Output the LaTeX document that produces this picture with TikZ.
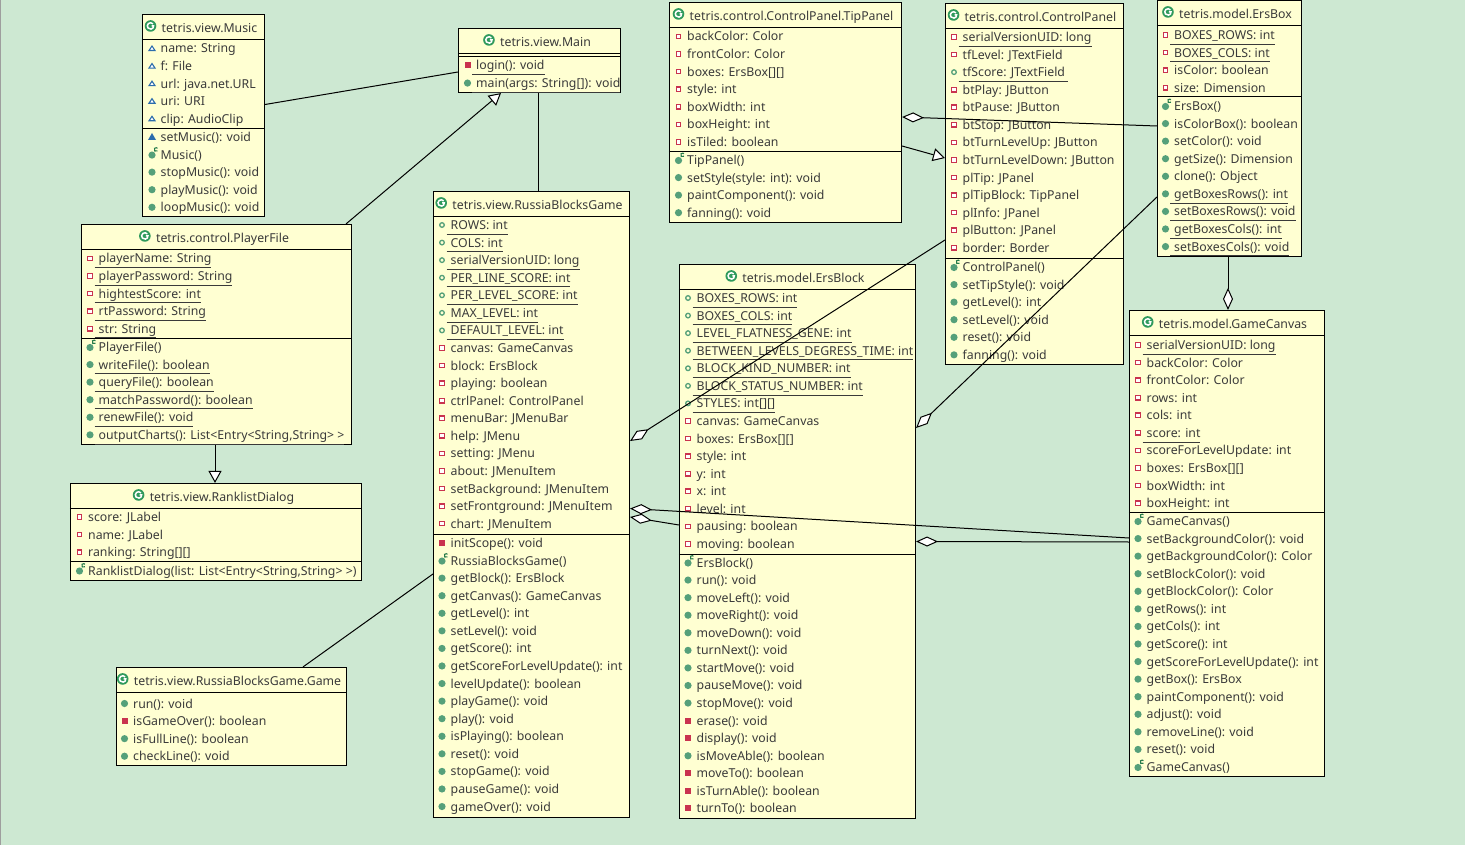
\documentclass[tikz,border=0pt]{standalone}
\usepackage{fontspec}
\setmainfont{Noto Sans}
\usepackage{xcolor}
\usepackage{tikz}
\usetikzlibrary{arrows.meta,fit,calc}
\definecolor{cBack}{HTML}{CDE8D2}
\definecolor{cBox}{HTML}{FFFFD2}
\definecolor{cText}{HTML}{3A3A3A}
\definecolor{cPriv}{HTML}{C9334F}
\definecolor{cPub}{HTML}{55A07A}
\definecolor{cPkg}{HTML}{2C6CAC}
\definecolor{cClass}{HTML}{2F9A5C}
\tikzset{
  classbox/.style={draw=black, line width=1.1pt, fill=cBox, inner sep=0pt},
  titletext/.style={anchor=base, font=\fontsize{12.3}{14}\selectfont, text=cText, inner sep=0pt},
  rowtext/.style={anchor=base west, font=\fontsize{12.3}{14}\selectfont, text=cText, inner sep=0pt},
  sepline/.style={line width=1.1pt},
  assoc/.style={line width=1pt},
  aggr/.style={{Diamond[fill=white,length=22pt,width=10pt]}-, line width=1pt},
  inherit/.style={-{Triangle[fill=white,length=12pt,width=13pt]}, line width=1pt},
  % member icons
  fpriv/.pic={\draw[cPriv, line width=1.2pt, fill=white] (-2.2,-2.2) rectangle (2.2,2.2);},
  mpriv/.pic={\fill[cPriv] (-3,-3) rectangle (3,3);},
  fpub/.pic={\draw[cPub, line width=1.3pt, fill=cBox] (0,0) circle (2.3);},
  mpub/.pic={\fill[cPub] (0,0) circle (3.6);},
  fpkg/.pic={\draw[cPkg, line width=1.1pt, fill=white] (0,-2.5) -- (3,2) -- (-3,2) -- cycle;},
  mpkg/.pic={\fill[cPkg] (0,-4) -- (4,3) -- (-4,3) -- cycle;},
  ctor/.pic={\fill[cPub] (0,0.5) circle (3.6);
    \draw[cClass!80!black, line width=1.1pt] (5.46,-3.78) arc (40:320:1.9);},
  cicon/.pic={\fill[cClass] (0,0) circle (5.8);
    \draw[white, line width=1.5pt] (2.45,-2.06) arc (-40:-320:3.2) -- (3,0) -- (1,0);},
}
% box with title, title rule and member rule
\newcommand\umlclass[7]{%
  \node[classbox, fit={(#2,#3) (#4,#5)}] (#1) {};
  \node[titletext] (#1-title) at ($(#1.north)+(6,18.3)$) {#6};
  \pic at ($(#1-title.base west)+(-11,-6.3)$) {cicon};
  \foreach \sepy in {#7} {\draw[sepline] (#1.west |- 0,\sepy) -- (#1.east |- 0,\sepy);}
}
% one column of members, each item is icon/text
\newcommand\umlrows[4]{%
  \foreach \ic/\txt [count=\n from 0] in {#4} {
    \pic at (#2,{#3+17.57*\n}) {\ic};
    \node[rowtext] (#1-\n) at (#2+8.5,{#3+17.57*\n+4.5}) {\txt};
  }
}
\newcommand\ul[1]{\hspace*{-4pt}\underline{\vphantom{g}\smash{\hspace{4pt}#1}}}
\begin{document}
\begin{tikzpicture}[x=1pt, y=-1pt]
  \useasboundingbox (0,0) rectangle (1465,845);
  \fill[cBack] (0,0) rectangle (1465,845);
  \fill[black!38] (0,0) rectangle (1,845);

  % view package, left column
  \umlclass{music}{142.5}{14.5}{264.5}{216.5}{tetris.view.Music}{39.5,128.5}
  \umlrows{music-f}{152}{48.5}{fpkg/name: String, fpkg/f: File, fpkg/url: java.net.URL, fpkg/uri: URI, fpkg/clip: AudioClip}
  \umlrows{music-m}{152}{137}{mpkg/setMusic(): void, ctor/Music(), mpub/stopMusic(): void, mpub/playMusic(): void, mpub/loopMusic(): void}

  \umlclass{main}{458.5}{28.5}{620.5}{92.5}{tetris.view.Main}{53.5,56.5}
  \umlrows{main-m}{467.5}{65.5}{mpriv/\ul{login(): void}, mpub/\ul{main(args: String[]): void}}

  \umlclass{player}{81.5}{224.5}{351.5}{444.5}{tetris.control.PlayerFile}{249.5,338.5}
  \umlrows{player-f}{90}{258.5}{fpriv/\ul{playerName: String}, fpriv/\ul{playerPassword: String}, fpriv/\ul{hightestScore: int}, fpriv/\ul{rtPassword: String}, fpriv/\ul{str: String}}
  \umlrows{player-m}{90}{347}{ctor/PlayerFile(), mpub/\ul{writeFile(): boolean}, mpub/\ul{queryFile(): boolean}, mpub/\ul{matchPassword(): boolean}, mpub/\ul{renewFile(): void}, mpub/\ul{outputCharts(): List<Entry<{String,String}> >}}

  \umlclass{ranklist}{70.5}{483.5}{361.5}{580.5}{tetris.view.RanklistDialog}{508.5,561.5}
  \umlrows{ranklist-f}{79.5}{517}{fpriv/score: JLabel, fpriv/name: JLabel, fpriv/ranking: String[][]}
  \umlrows{ranklist-m}{79.5}{570.5}{ctor/RanklistDialog(list: List<Entry<{String,String}> >)}

  \umlclass{game}{116.5}{667.5}{346.5}{765.5}{tetris.view.RussiaBlocksGame.Game}{692.5}
  \umlrows{game-m}{124.5}{703.5}{mpub/run(): void, mpriv/isGameOver(): boolean, mpub/isFullLine(): boolean, mpub/checkLine(): void}

  \umlclass{russia}{433.5}{191.5}{629.5}{817.5}{tetris.view.RussiaBlocksGame}{216.5,534.5}
  \umlrows{russia-f}{442}{225}{fpub/\ul{ROWS: int}, fpub/\ul{COLS: int}, fpub/\ul{serialVersionUID: long}, fpub/\ul{PER\_LINE\_SCORE: int}, fpub/\ul{PER\_LEVEL\_SCORE: int}, fpub/\ul{MAX\_LEVEL: int}, fpub/\ul{DEFAULT\_LEVEL: int}, fpriv/canvas: GameCanvas, fpriv/block: ErsBlock, fpriv/playing: boolean, fpriv/ctrlPanel: ControlPanel, fpriv/menuBar: JMenuBar, fpriv/help: JMenu, fpriv/setting: JMenu, fpriv/about: JMenuItem, fpriv/setBackground: JMenuItem, fpriv/setFrontground: JMenuItem, fpriv/chart: JMenuItem}
  \umlrows{russia-m}{442}{543}{mpriv/initScope(): void, ctor/RussiaBlocksGame(), mpub/getBlock(): ErsBlock, mpub/getCanvas(): GameCanvas, mpub/getLevel(): int, mpub/setLevel(): void, mpub/getScore(): int, mpub/getScoreForLevelUpdate(): int, mpub/levelUpdate(): boolean, mpub/playGame(): void, mpub/play(): void, mpub/isPlaying(): boolean, mpub/reset(): void, mpub/stopGame(): void, mpub/pauseGame(): void, mpub/gameOver(): void}

  % control package
  \umlclass{tippanel}{669.5}{2.5}{901.5}{222.5}{tetris.control.ControlPanel.TipPanel}{27.5,151.5}
  \umlrows{tippanel-f}{678.5}{36.5}{fpriv/backColor: Color, fpriv/frontColor: Color, fpriv/boxes: ErsBox[][], fpriv/style: int, fpriv/boxWidth: int, fpriv/boxHeight: int, fpriv/isTiled: boolean}
  \umlrows{tippanel-m}{678.5}{160}{ctor/TipPanel(), mpub/setStyle(style: int): void, mpub/paintComponent(): void, mpub/fanning(): void}

  \umlclass{control}{945.5}{3.5}{1123.5}{364.5}{tetris.control.ControlPanel}{28.5,258.5}
  \umlrows{control-f}{954}{37}{fpriv/\ul{serialVersionUID: long}, fpriv/tfLevel: JTextField, fpub/\ul{tfScore: JTextField\ }, fpriv/btPlay: JButton, fpriv/btPause: JButton, fpriv/btStop: JButton, fpriv/btTurnLevelUp: JButton, fpriv/btTurnLevelDown: JButton, fpriv/plTip: JPanel, fpriv/plTipBlock: TipPanel, fpriv/plInfo: JPanel, fpriv/plButton: JPanel, fpriv/border: Border}
  \umlrows{control-m}{954}{267}{ctor/ControlPanel(), mpub/setTipStyle(): void, mpub/getLevel(): int, mpub/setLevel(): void, mpub/reset(): void, mpub/fanning(): void}

  % model package
  \umlclass{ersbox}{1157.5}{0.5}{1301.5}{256.5}{tetris.model.ErsBox}{25.5,96.5}
  \umlrows{ersbox-f}{1165.5}{35}{fpriv/\ul{BOXES\_ROWS: int}, fpriv/\ul{BOXES\_COLS: int}, fpriv/isColor: boolean, fpriv/size: Dimension}
  \umlrows{ersbox-m}{1165.5}{106}{ctor/ErsBox(), mpub/isColorBox(): boolean, mpub/setColor(): void, mpub/getSize(): Dimension, mpub/clone(): Object, mpub/\ul{getBoxesRows(): int}, mpub/\ul{setBoxesRows(): void}, mpub/\ul{getBoxesCols(): int}, mpub/\ul{setBoxesCols(): void}}

  \umlclass{ersblock}{679.5}{264.5}{915.5}{818.5}{tetris.model.ErsBlock}{289.5,554.5}
  \umlrows{ersblock-f}{688}{298}{fpub/\ul{BOXES\_ROWS: int}, fpub/\ul{BOXES\_COLS: int}, fpub/\ul{LEVEL\_FLATNESS\_GENE: int}, fpub/\ul{BETWEEN\_LEVELS\_DEGRESS\_TIME: int}, fpub/\ul{BLOCK\_KIND\_NUMBER: int}, fpub/\ul{BLOCK\_STATUS\_NUMBER: int}, fpub/\ul{STYLES: int[][]}, fpriv/canvas: GameCanvas, fpriv/boxes: ErsBox[][], fpriv/style: int, fpriv/y: int, fpriv/x: int, fpriv/level: int, fpriv/pausing: boolean, fpriv/moving: boolean}
  \umlrows{ersblock-m}{688}{562.5}{ctor/ErsBlock(), mpub/run(): void, mpub/moveLeft(): void, mpub/moveRight(): void, mpub/moveDown(): void, mpub/turnNext(): void, mpub/startMove(): void, mpub/pauseMove(): void, mpub/stopMove(): void, mpriv/erase(): void, mpriv/display(): void, mpub/isMoveAble(): boolean, mpriv/moveTo(): boolean, mpriv/isTurnAble(): boolean, mpriv/turnTo(): boolean}

  \umlclass{canvas}{1129.5}{310.5}{1324.5}{776.5}{tetris.model.GameCanvas}{335.5,512.5}
  \umlrows{canvas-f}{1138}{345}{fpriv/\ul{serialVersionUID: long}, fpriv/backColor: Color, fpriv/frontColor: Color, fpriv/rows: int, fpriv/cols: int, fpriv/\ul{score: int}, fpriv/scoreForLevelUpdate: int, fpriv/boxes: ErsBox[][], fpriv/boxWidth: int, fpriv/boxHeight: int}
  \umlrows{canvas-m}{1138}{521}{ctor/GameCanvas(), mpub/setBackgroundColor(): void, mpub/getBackgroundColor(): Color, mpub/setBlockColor(): void, mpub/getBlockColor(): Color, mpub/getRows(): int, mpub/getCols(): int, mpub/getScore(): int, mpub/getScoreForLevelUpdate(): int, mpub/getBox(): ErsBox, mpub/paintComponent(): void, mpub/adjust(): void, mpub/removeLine(): void, mpub/reset(): void, ctor/GameCanvas()}

  % plain associations
  \draw[assoc] (music.east |- 0,104.5) -- (main.west |- 0,72);
  \draw[assoc] (main.south -| 538,0) -- (russia.north -| 538,0);
  \draw[assoc] (game.north -| 303,0) -- (russia.west |- 0,574);

  % generalisations
  \draw[inherit] (player.north -| 346,0) -- (main.south -| 501,0);
  \draw[inherit] (player.south -| 215,0) -- (ranklist.north -| 215,0);
  \draw[inherit] (tippanel.east |- 0,146) -- (control.west |- 0,158);

  % aggregations, diamond on the owner
  \draw[aggr] (russia.east |- 0,441) -- (control.west |- 0,240);
  \draw[aggr] (ersblock.east |- 0,428) -- (ersbox.west |- 0,197);
  \draw[aggr] (tippanel.east |- 0,117) -- (ersbox.west |- 0,126);
  \draw[aggr] (canvas.north -| 1228,0) -- (ersbox.south -| 1228,0);
  \draw[aggr] (russia.east |- 0,508.5) -- (canvas.west |- 0,538);
  \draw[aggr] (russia.east |- 0,517) -- (ersblock.west |- 0,525);
  \draw[aggr] (ersblock.east |- 0,541.5) -- (canvas.west |- 0,542);
\end{tikzpicture}
\end{document}
